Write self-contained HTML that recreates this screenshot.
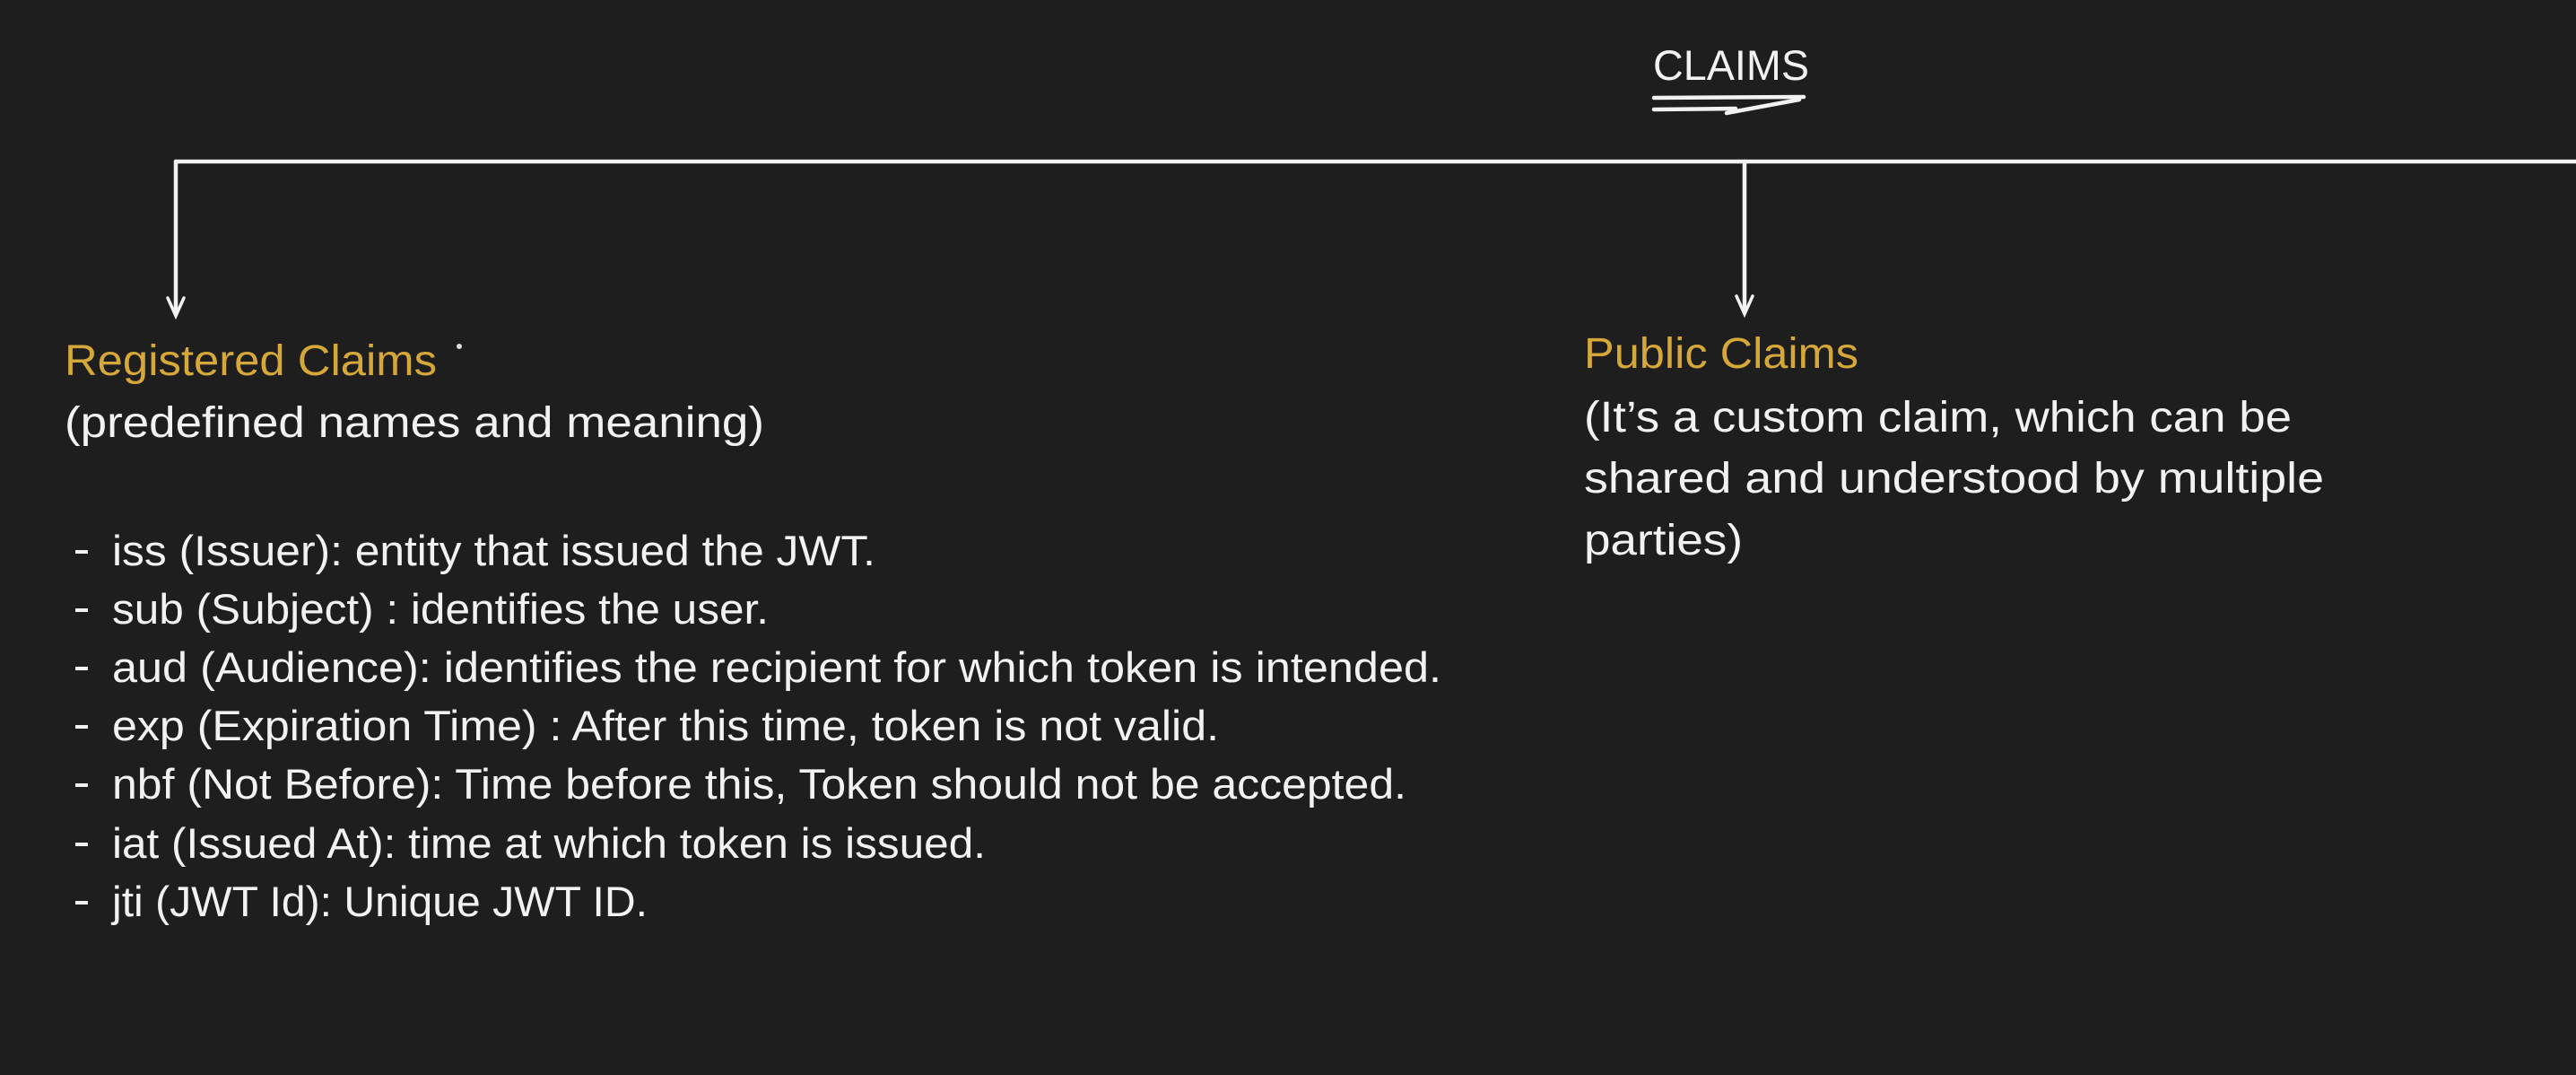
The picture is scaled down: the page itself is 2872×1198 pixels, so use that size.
<!DOCTYPE html>
<html><head><meta charset="utf-8"><style>
html,body{margin:0;padding:0;background:#1e1e1e;}
svg{display:block;}
text{font-family:"Liberation Sans",sans-serif;}
</style></head><body>
<svg width="2872" height="1198" viewBox="0 0 2872 1198" xmlns="http://www.w3.org/2000/svg">
<rect width="2872" height="1198" fill="#1e1e1e"/>
<g fill="#f2f2f2" font-size="47">
<text x="1843" y="89" textLength="174" lengthAdjust="spacingAndGlyphs">CLAIMS</text>
</g>
<g stroke="#f2f2f2" stroke-width="4.5" stroke-linecap="round" fill="none">
<path d="M1844 109 L2011 108"/>
<path d="M1844 122 L1935 121"/>
<path d="M1925 126 L2006 111"/>
<path d="M196 180 L2872 180"/>
<path d="M196 180 L196 350"/>
<path d="M1945 180 L1945 348"/>
</g>
<g stroke="#f2f2f2" stroke-width="3.5" stroke-linecap="round" fill="none">
<path d="M187 332 L196 352 L205 332"/>
<path d="M1936 330 L1945 350 L1954 330"/>
</g>
<g fill="#d6a83a" font-size="48">
<text x="72" y="418" textLength="415" lengthAdjust="spacingAndGlyphs">Registered Claims</text>
<text x="1766" y="410" textLength="306" lengthAdjust="spacingAndGlyphs">Public Claims</text>
</g>
<circle cx="512" cy="386" r="3" fill="#ddd"/>
<g fill="#f2f2f2" font-size="48">
<text x="72" y="487" textLength="780" lengthAdjust="spacingAndGlyphs">(predefined names and meaning)</text>
<text x="1766" y="481" textLength="789" lengthAdjust="spacingAndGlyphs">(It’s a custom claim, which can be</text>
<text x="1766" y="549" textLength="825" lengthAdjust="spacingAndGlyphs">shared and understood by multiple</text>
<text x="1766" y="618" textLength="177" lengthAdjust="spacingAndGlyphs">parties)</text>
</g>
<g fill="#f2f2f2" font-size="47">
<rect x="84" y="613" width="14" height="4"/>
<rect x="84" y="678" width="14" height="4"/>
<rect x="84" y="743" width="14" height="4"/>
<rect x="84" y="808" width="14" height="4"/>
<rect x="84" y="873" width="14" height="4"/>
<rect x="84" y="939" width="14" height="4"/>
<rect x="84" y="1004" width="14" height="4"/>
<text x="125" y="630" textLength="851" lengthAdjust="spacingAndGlyphs">iss  (Issuer): entity that issued the JWT.</text>
<text x="125" y="695" textLength="732" lengthAdjust="spacingAndGlyphs">sub (Subject) : identifies the user.</text>
<text x="125" y="760" textLength="1482" lengthAdjust="spacingAndGlyphs">aud (Audience): identifies the recipient for which token is intended.</text>
<text x="125" y="825" textLength="1234" lengthAdjust="spacingAndGlyphs">exp (Expiration Time) : After this time, token is not valid.</text>
<text x="125" y="890" textLength="1443" lengthAdjust="spacingAndGlyphs">nbf (Not Before): Time before this, Token should not be accepted.</text>
<text x="125" y="956" textLength="974" lengthAdjust="spacingAndGlyphs">iat (Issued At): time at which token is issued.</text>
<text x="125" y="1021" textLength="597" lengthAdjust="spacingAndGlyphs">jti (JWT Id): Unique JWT ID.</text>
</g>
</svg>
</body></html>
